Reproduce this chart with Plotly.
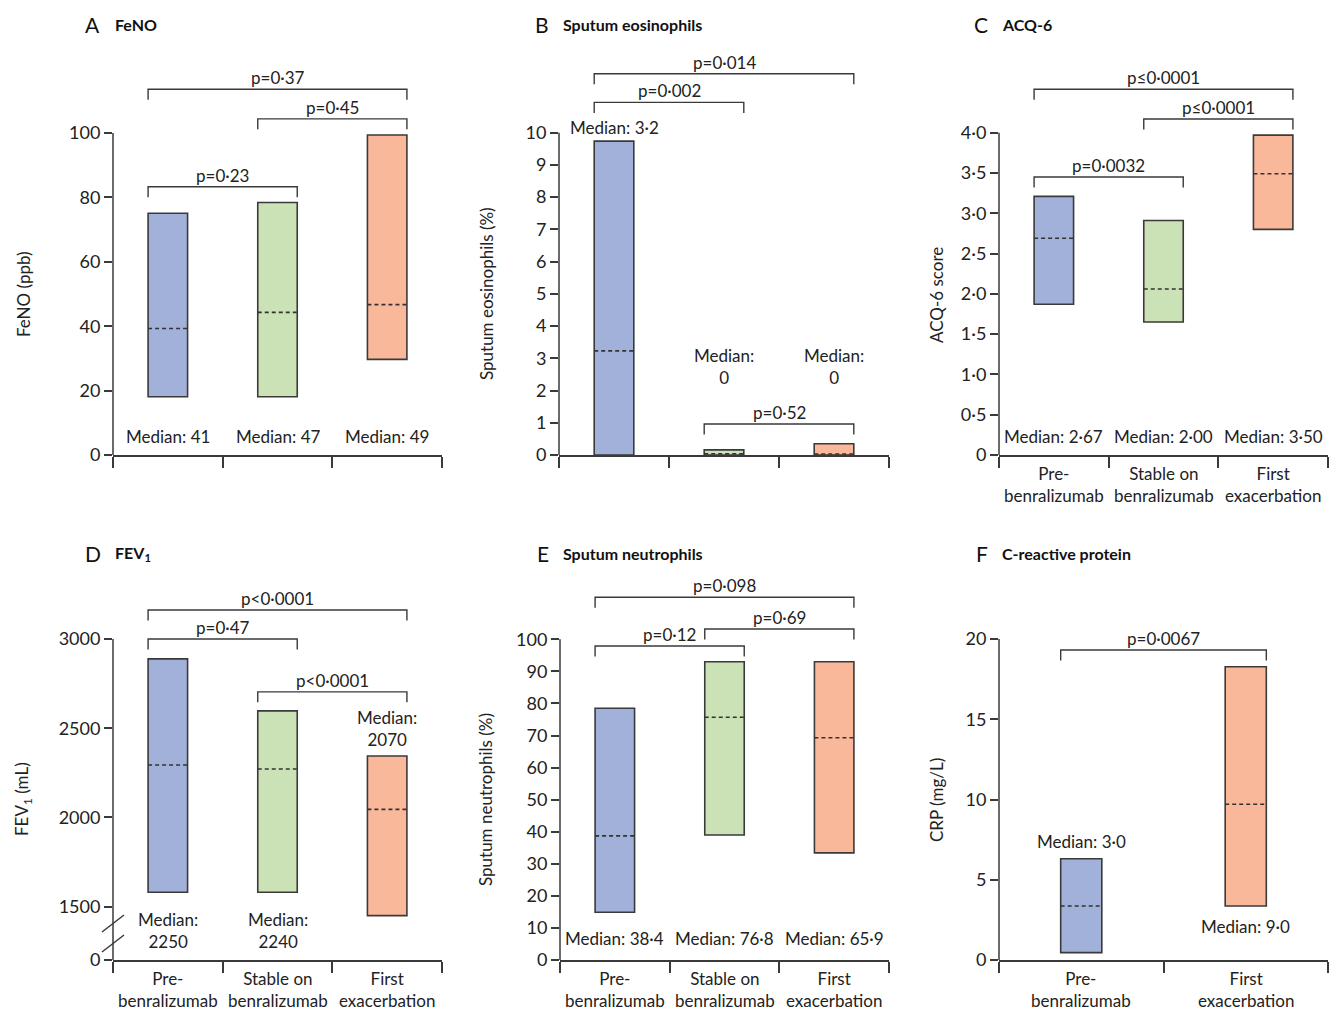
import plotly.graph_objects as go

W, H = 1336, 1019
# the photographed page comes out about 1% shorter than drawn, so draw a little taller
FIG_H = 1029
FONT = "Lato"
TXT = "#222222"
AX = "#3a3a3a"

groups3 = ["Pre-<br>benralizumab", "Stable on<br>benralizumab", "First<br>exacerbation"]
groups2 = ["Pre-<br>benralizumab", "First<br>exacerbation"]
colors3 = ["#a2b1d9", "#cbe2b6", "#fab89b"]
colors2 = ["#a2b1d9", "#fab89b"]

# A  FeNO (ppb)
feno_low = [18.1, 18.1, 29.7]
feno_high = [75.1, 78.4, 99.4]
feno_mid = [39.3, 44.3, 46.7]
feno_median = ["41", "47", "49"]
feno_p = ["p=0·23", "p=0·37", "p=0·45"]
feno_pairs = [(0, 1), (0, 2), (1, 2)]
feno_p_y = [83.3, 113.6, 104.4]

# B  Sputum eosinophils (%)
eos_low = [0, 0, 0]
eos_high = [9.74, 0.16, 0.35]
eos_mid = [3.23, 0.04, 0.03]
eos_median = ["3·2", "0", "0"]
eos_p = ["p=0·002", "p=0·014", "p=0·52"]
eos_pairs = [(0, 1), (0, 2), (1, 2)]
eos_p_y = [10.94, 11.83, 0.96]

# C  ACQ-6 score
acq_low = [1.87, 1.65, 2.80]
acq_high = [3.21, 2.91, 3.97]
acq_mid = [2.69, 2.06, 3.49]
acq_median = ["2·67", "2·00", "3·50"]
acq_p = ["p=0·0032", "p≤0·0001", "p≤0·0001"]
acq_pairs = [(0, 1), (0, 2), (1, 2)]
acq_p_y = [3.45, 4.54, 4.17]

# D  FEV1 (mL)
fev_low = [1580, 1580, 1449]
fev_high = [2889, 2597, 2344]
fev_mid = [2294, 2271, 2045]
fev_median = ["2250", "2240", "2070"]
fev_p = ["p=0·47", "p<0·0001", "p<0·0001"]
fev_pairs = [(0, 1), (0, 2), (1, 2)]
fev_p_y = [3000, 3163, 2704]

# E  Sputum neutrophils (%)
neu_low = [14.9, 39.0, 33.4]
neu_high = [78.5, 93.0, 93.0]
neu_mid = [38.7, 75.7, 69.3]
neu_median = ["38·4", "76·8", "65·9"]
neu_p = ["p=0·12", "p=0·098", "p=0·69"]
neu_pairs = [(0, 1), (0, 2), (1, 2)]
neu_p_y = [97.9, 113.1, 103.2]

# F  CRP (mg/L)
crp_low = [0.46, 3.36]
crp_high = [6.31, 18.27]
crp_mid = [3.36, 9.7]
crp_median = ["3·0", "9·0"]
crp_p = ["p=0·0067"]
crp_pairs = [(0, 1)]
crp_p_y = [19.31]


def px_x(px):
    return px / W


def px_y(py):
    return 1 - py / H


panels = [
    dict(letter="A", title="FeNO", ytitle="FeNO (ppb)", low=feno_low, high=feno_high, mid=feno_mid,
         med=feno_median, p=feno_p, pairs=feno_pairs, p_y=feno_p_y, groups=None, colors=colors3,
         xl=113, xr=442, bottom=455, top=40, y0=0, scale=3.22, axis_top=100,
         tickvals=[0, 20, 40, 60, 80, 100], ticktext=None,
         lab_y=[5.7, 5.7, 5.7], lab_br=[False] * 3, yt_x=23, yt_y=294, let_x=83, tit_x=113, tit_y=24, bw=0.36),
    dict(letter="B", title="Sputum eosinophils", ytitle="Sputum eosinophils (%)", low=eos_low, high=eos_high,
         mid=eos_mid, med=eos_median, p=eos_p, pairs=eos_pairs, p_y=eos_p_y, groups=None, colors=colors3,
         xl=559, xr=889, bottom=455, top=40, y0=0, scale=32.23, axis_top=10,
         tickvals=list(range(11)), ticktext=None,
         lab_y=[10.17, 2.76, 2.76], lab_br=[False, True, True], yt_x=486, yt_y=294, let_x=533, tit_x=561, tit_y=24, bw=0.36),
    dict(letter="C", title="ACQ-6", ytitle="ACQ-6 score", low=acq_low, high=acq_high, mid=acq_mid,
         med=acq_median, p=acq_p, pairs=acq_pairs, p_y=acq_p_y, groups=groups3, colors=colors3,
         xl=999, xr=1328, bottom=455, top=40, y0=0, scale=80.575, axis_top=4,
         tickvals=[0, 0.5, 1, 1.5, 2, 2.5, 3, 3.5, 4],
         ticktext=["0", "0·5", "1·0", "1·5", "2·0", "2·5", "3·0", "3·5", "4·0"],
         lab_y=[0.23, 0.23, 0.23], lab_br=[False] * 3, yt_x=936, yt_y=295, let_x=972, tit_x=1000, tit_y=24, bw=0.36),
    dict(letter="D", title="FEV<sub>1</sub>", ytitle="FEV<sub>1</sub> (mL)", low=fev_low, high=fev_high,
         mid=fev_mid, med=fev_median, p=fev_p, pairs=fev_pairs, p_y=fev_p_y, groups=groups3, colors=colors3,
         xl=113, xr=442, bottom=960, top=568, y0=1200, scale=0.1783, axis_top=3000,
         tickvals=[1200, 1500, 2000, 2500, 3000], ticktext=["0", "1500", "2000", "2500", "3000"],
         lab_y=[1368, 1368, 2498], lab_br=[True] * 3, yt_x=23, yt_y=799, let_x=83, tit_x=113, tit_y=553, bw=0.36),
    dict(letter="E", title="Sputum neutrophils", ytitle="Sputum neutrophils (%)", low=neu_low, high=neu_high,
         mid=neu_mid, med=neu_median, p=neu_p, pairs=neu_pairs, p_y=neu_p_y, groups=groups3, colors=colors3,
         xl=560, xr=889, bottom=960, top=568, y0=0, scale=3.207, axis_top=100,
         tickvals=list(range(0, 101, 10)), ticktext=None,
         lab_y=[6.8, 6.8, 6.8], lab_br=[False] * 3, yt_x=485, yt_y=800, let_x=535, tit_x=561, tit_y=553, bw=0.36),
    dict(letter="F", title="C-reactive protein", ytitle="CRP (mg/L)", low=crp_low, high=crp_high, mid=crp_mid,
         med=crp_median, p=crp_p, pairs=crp_pairs, p_y=crp_p_y, groups=groups2, colors=colors2,
         xl=999, xr=1328, bottom=960, top=568, y0=0, scale=16.05, axis_top=20,
         tickvals=[0, 5, 10, 15, 20], ticktext=None,
         lab_y=[7.37, 2.07], lab_br=[False, False], yt_x=936, yt_y=800, let_x=974, tit_x=1000, tit_y=553, bw=0.25),
]

fig = go.Figure()
annotations = []
shapes = []
layout = {}

for i, p in enumerate(panels, start=1):
    xa = "x" if i == 1 else f"x{i}"
    ya = "y" if i == 1 else f"y{i}"
    n = len(p["low"])
    centers = [k + 0.5 for k in range(n)]
    half = p["bw"] / 2

    # floating bars (range) with dashed median
    fig.add_trace(go.Bar(
        x=centers, y=[h - l for h, l in zip(p["high"], p["low"])], base=p["low"], width=p["bw"],
        marker=dict(color=p["colors"], line=dict(color=AX, width=1.6)),
        xaxis=xa, yaxis=ya, showlegend=False, hoverinfo="skip"))
    mx, my = [], []
    for c, m in zip(centers, p["mid"]):
        mx += [c - half, c + half, None]
        my += [m, m, None]
    fig.add_trace(go.Scatter(x=mx, y=my, mode="lines", line=dict(color="#333", width=1.6, dash="4px,3px"),
                             xaxis=xa, yaxis=ya, showlegend=False, hoverinfo="skip"))

    # significance brackets
    leg = 10.5 / p["scale"]
    bx, by = [], []
    for (a, b), yb, txt in zip(p["pairs"], p["p_y"], p["p"]):
        x0, x1 = centers[a] - half, centers[b] + half
        bx += [x0, x0, x1, x1, None]
        by += [yb - leg, yb, yb, yb - leg, None]
        annotations.append(dict(x=(x0 + x1) / 2, y=yb, xref=xa, yref=ya, text=txt, showarrow=False,
                                xanchor="center", yanchor="bottom", yshift=-1,
                                font=dict(size=17, color=TXT)))
    fig.add_trace(go.Scatter(x=bx, y=by, mode="lines", line=dict(color=AX, width=1.4),
                             xaxis=xa, yaxis=ya, showlegend=False, hoverinfo="skip"))

    # median labels
    for c, m, ly, br in zip(centers, p["med"], p["lab_y"], p["lab_br"]):
        annotations.append(dict(x=c, y=ly, xref=xa, yref=ya, showarrow=False,
                                xanchor="center", yanchor="middle",
                                text=("Median:<br>" if br else "Median: ") + m,
                                font=dict(size=17, color=TXT)))

    # category labels
    if p["groups"]:
        for c, g in zip(centers, p["groups"]):
            annotations.append(dict(x=c, y=p["y0"], xref=xa, yref=ya, xanchor="center", yanchor="top",
                                    yshift=-6, showarrow=False, text=g, font=dict(size=17, color=TXT)))

    # y axis line only up to last tick
    shapes.append(dict(type="line", xref=f"{xa} domain", yref=ya, x0=0, x1=0,
                       y0=p["y0"], y1=p["axis_top"], line=dict(color=AX, width=1.5)))

    # titles
    annotations.append(dict(x=px_x(p["yt_x"]), y=px_y(p["yt_y"]), xref="paper", yref="paper", textangle=-90,
                            xanchor="center", yanchor="middle",
                            showarrow=False, text=p["ytitle"], font=dict(size=17, color=TXT)))
    annotations.append(dict(x=px_x(p["let_x"]), y=px_y(p["tit_y"]), xref="paper", yref="paper",
                            xanchor="left", yanchor="middle",
                            showarrow=False, text=p["letter"], font=dict(size=21, color="#111")))
    annotations.append(dict(x=px_x(p["tit_x"]), y=px_y(p["tit_y"]), xref="paper", yref="paper",
                            xanchor="left", yanchor="middle",
                            showarrow=False, text="<b>" + p["title"] + "</b>", font=dict(size=16, color="#111")))

    key = "" if i == 1 else str(i)
    layout["xaxis" + key] = dict(
        domain=[px_x(p["xl"]), px_x(p["xr"])], range=[0, n], anchor=ya,
        tickvals=list(range(n + 1)), ticks="outside", ticklen=11, tickwidth=1.5, tickcolor=AX,
        showticklabels=False, showline=True, linecolor=AX, linewidth=1.5,
        showgrid=False, zeroline=False)
    ytop = p["y0"] + (p["bottom"] - p["top"]) / p["scale"]
    yax = dict(
        domain=[px_y(p["bottom"]), px_y(p["top"])], range=[p["y0"], ytop], anchor=xa,
        tickvals=p["tickvals"], ticks="outside", ticklen=8, tickwidth=1.5, tickcolor=AX,
        tickfont=dict(size=18, color=TXT), showline=False, showgrid=False, zeroline=False)
    if p["ticktext"]:
        yax["ticktext"] = p["ticktext"]
    layout["yaxis" + key] = yax

# axis break marks on panel D
for yb in (932, 952):
    shapes.append(dict(type="line", xref="paper", yref="paper",
                       x0=px_x(102), y0=px_y(yb), x1=px_x(124), y1=px_y(yb - 17),
                       line=dict(color=AX, width=1.5)))

fig.update_layout(
    width=W, height=FIG_H, margin=dict(l=0, r=0, t=0, b=0),
    paper_bgcolor="white", plot_bgcolor="white",
    font=dict(family=FONT, size=17, color=TXT),
    annotations=annotations, shapes=shapes, barmode="overlay",
    **layout)

fig.write_html("out.html", config={"displayModeBar": False}, post_script=(
    "document.body.style.margin='0';"
    "document.body.style.overflow='hidden';"
    "document.documentElement.style.overflow='hidden';"))
